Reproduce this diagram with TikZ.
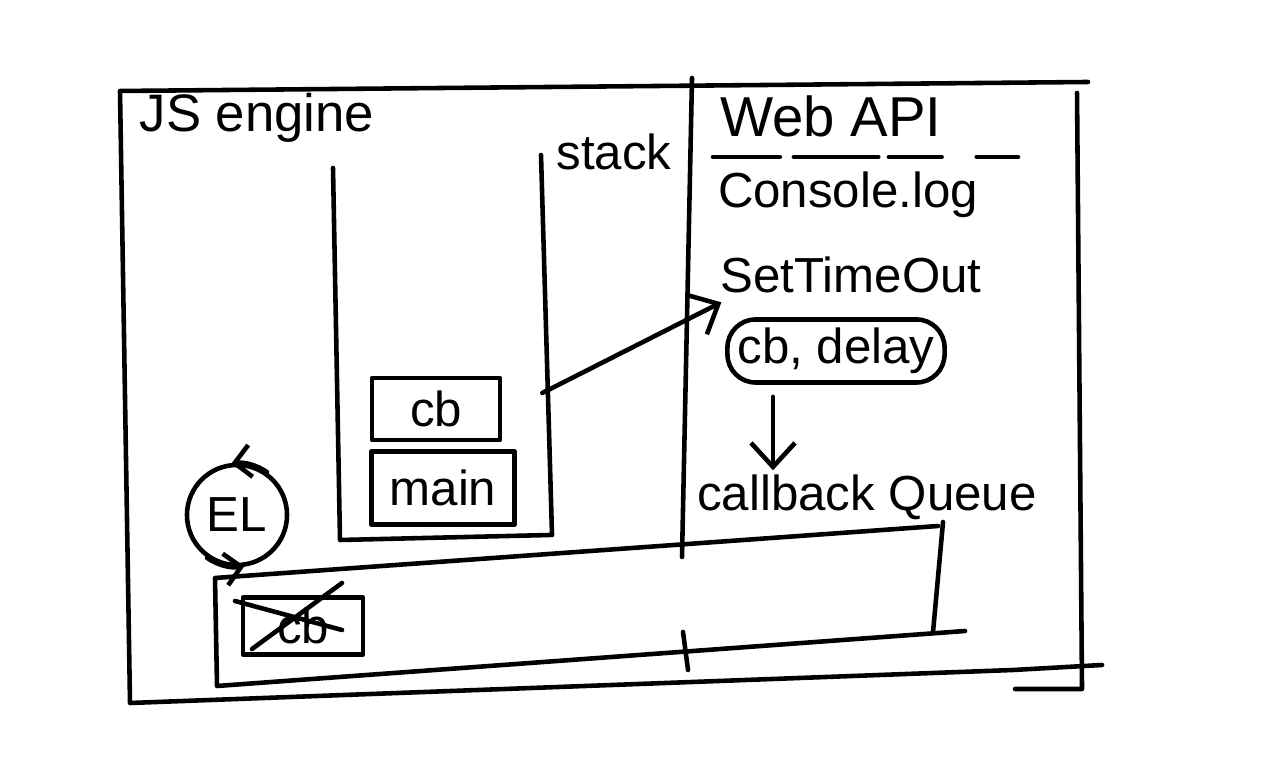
\documentclass[tikz,border=0pt]{standalone}
\usepackage{fontspec}
\setmainfont{Liberation Sans}
\usetikzlibrary{arrows.meta}

\begin{document}
\begin{tikzpicture}[
      x=0.01cm, y=-0.01cm,
      every node/.style={font=\fontsize{14}{16}\selectfont},
      pen/.style={line width=1.3pt, line cap=round, line join=round},
      slot/.style={pen, draw, inner sep=2pt},
      lbl/.style={inner sep=1pt},
      arr/.style={pen, -{Straight Barb[length=2.4mm, width=4.4mm]}},
      looparr/.style={pen, -{Straight Barb[length=1.6mm, width=3.2mm]}},
    ]
    \useasboundingbox (0,0) rectangle (1280,768);

    %% outer frame and divider
    \draw[pen] (1088,82) -- (120,91) -- (130,703) -- (1013,670) -- (1102,665);
    \draw[pen] (1077,93) -- (1082,689) -- (1015,689);
    \draw[pen] (692,78) -- (682,557);
    \draw[pen] (683,632) -- (688,670);

    %% JS engine side
    \node[lbl, font=\fontsize{15}{17}\selectfont] (engine) at (257,118) {JS engine};
    \node[lbl] (stacklbl) at (614,152) {stack};
    \draw[pen] (333,168) -- (340,540) -- (550,535);
    \draw[pen] (541,155) -- (552,535);

    \node[slot, minimum width=1.28cm, minimum height=0.62cm] (cb) at (436,409) {cb};
    \node[slot, minimum width=1.43cm, minimum height=0.73cm] (main) at (443,488) {main};

    %% event loop
    \node[pen, draw, circle, minimum size=1cm, inner sep=0pt] (loop) at (237,515) {EL};
    \draw[looparr] (loop.55) arc[start angle=55, end angle=98, radius=0.5cm];
    \draw[looparr] (loop.235) arc[start angle=235, end angle=280, radius=0.5cm];

    %% Web API side
    \node[lbl, font=\fontsize{16}{18}\selectfont] (webapi) at (831,116) {Web API};
    \draw[pen, dash pattern={on 19pt off 4pt on 24pt off 3pt on 15pt off 10pt on 13pt}]
      (713,157) -- (1018,157);
    \node[lbl] (console) at (848,195) {Console.log};
    \node[lbl] (timeout) at (851,275) {SetTimeOut};
    \node[slot, rounded corners=8pt, minimum width=2.17cm, minimum height=0.63cm] (cbdelay) at (836,351) {cb, delay};

    \coordinate (drop) at (773,0);
    \node[lbl] (cbq) at (867,497) {callback Queue};

    \draw[arr] ([shift={(0.4cm,0.16cm)}]cb.east) -- ([shift={(0.05cm,-0.05cm)}]timeout.south west);
    \draw[arr] ([yshift=-0.12cm]drop |- cbdelay.south) -- (drop |- cbq.north);

    %% callback queue
    \draw[pen] (938,526) -- (215,578) -- (217,686) -- (965,631);
    \draw[pen] (943,522) -- (933,632);
    \node[slot, minimum width=1.2cm, minimum height=0.57cm] (done) at (303,626) {cb};
    \draw[pen] (235,601) -- (342,630);
    \draw[pen] (252,649) -- (342,583);
  \end{tikzpicture}
\end{document}
